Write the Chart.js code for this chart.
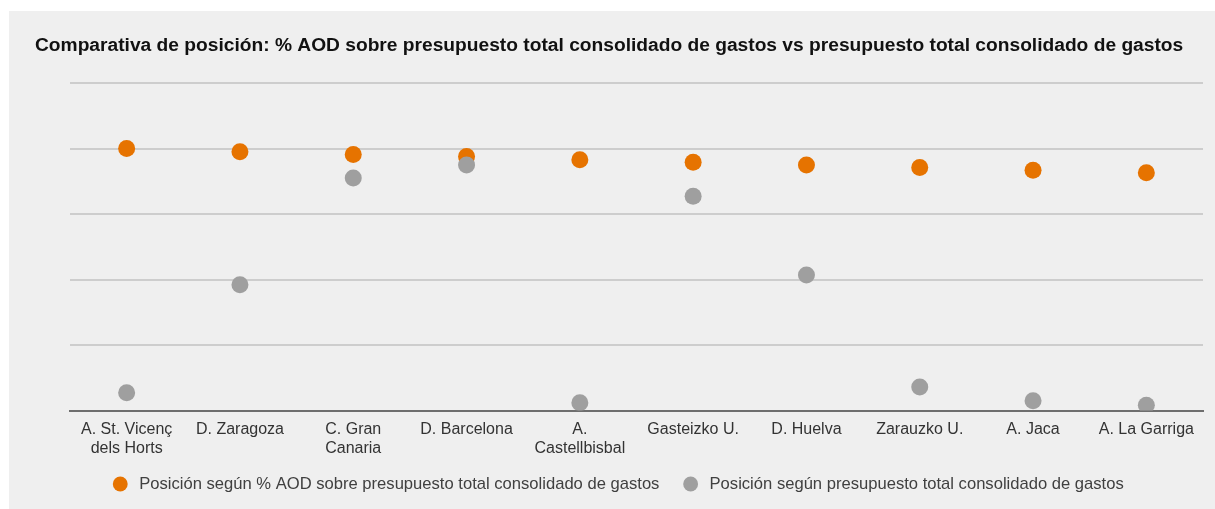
<!DOCTYPE html>
<html>
<head>
<meta charset="utf-8">
<script src="https://cdn.jsdelivr.net/npm/chart.js@4.4.1/dist/chart.umd.min.js"></script>
<style>
  html, body { margin: 0; padding: 0; background: #ffffff; width: 1215px; height: 509px; overflow: hidden; }
  #box { position: absolute; left: 9px; top: 11px; width: 1206px; height: 498px; background: #efefef; }
  canvas { display: block; }
</style>
</head>
<body>
<div id="box"><canvas id="c" width="1206" height="498"></canvas></div>
<script>
const titleText = "Comparativa de posición: % AOD sobre presupuesto total consolidado de gastos vs presupuesto total consolidado de gastos";
const categories = [
  ["A. St. Vicenç", "dels Horts"],
  "D. Zaragoza",
  ["C. Gran", "Canaria"],
  "D. Barcelona",
  ["A.", "Castellbisbal"],
  "Gasteizko U.",
  "D. Huelva",
  "Zarauzko U.",
  "A. Jaca",
  "A. La Garriga"
];
const seriesAODName = "Posición según % AOD sobre presupuesto total consolidado de gastos";
const seriesAOD = [40.0, 39.5, 39.1, 38.8, 38.3, 37.9, 37.5, 37.1, 36.7, 36.3];
const seriesBudgetName = "Posición según presupuesto total consolidado de gastos";
const seriesBudget = [2.7, 19.2, 35.5, 37.5, 1.2, 32.7, 20.7, 3.6, 1.5, 0.8];
const yMin = 0, yMax = 50, yStep = 10;

const FONT = "'Liberation Sans', Arial, sans-serif";
const ORANGE = '#e67300';
const GREY = '#9f9f9f';

new Chart(document.getElementById('c'), {
  type: 'line',
  data: {
    labels: categories,
    datasets: [
      {
        label: seriesAODName,
        data: seriesAOD,
        showLine: false,
        pointRadius: 8.5,
        pointHoverRadius: 8.5,
        pointBorderWidth: 0,
        backgroundColor: ORANGE,
        borderColor: ORANGE,
        pointBackgroundColor: ORANGE,
        order: 1
      },
      {
        label: seriesBudgetName,
        data: seriesBudget,
        showLine: false,
        pointRadius: 8.5,
        pointHoverRadius: 8.5,
        pointBorderWidth: 0,
        backgroundColor: GREY,
        borderColor: GREY,
        pointBackgroundColor: GREY,
        order: 0
      }
    ]
  },
  options: {
    responsive: false,
    animation: false,
    layout: { padding: { left: 26, right: 12, top: 0, bottom: 6.7 } },
    plugins: {
      tooltip: { enabled: false },
      title: {
        display: true,
        text: titleText,
        align: 'start',
        color: '#111111',
        font: { family: FONT, size: 19.2, weight: 'bold' },
        padding: { top: 23.5, bottom: 25.5 }
      },
      legend: {
        position: 'bottom',
        labels: {
          usePointStyle: true,
          pointStyle: 'circle',
          boxHeight: 10.5,
          boxWidth: 12,
          padding: 16,
          color: '#404040',
          font: { family: FONT, size: 16.6 },
          sort: (a, b) => a.datasetIndex - b.datasetIndex,
          generateLabels: (chart) => Chart.defaults.plugins.legend.labels.generateLabels(chart)
            .map((item) => Object.assign(item, {
              text: ' ' + item.text + (item.datasetIndex === 0 ? '  ' : '')
            }))
        }
      }
    },
    scales: {
      x: {
        offset: true,
        afterFit: (scale) => { scale.height = 49.2; },
        grid: { display: false, drawTicks: false },
        border: { display: true, color: '#6e6e6e', width: 2 },
        ticks: {
          color: '#333333',
          font: { family: FONT, size: 16 },
          padding: 9,
          maxRotation: 0,
          autoSkip: false
        }
      },
      y: {
        min: yMin,
        max: yMax,
        afterFit: (scale) => { scale.width = 35; },
        ticks: { display: false, stepSize: yStep },
        grid: { color: '#cdcdcd', lineWidth: 2, drawTicks: false },
        border: { display: false }
      }
    }
  }
});
</script>
</body>
</html>
